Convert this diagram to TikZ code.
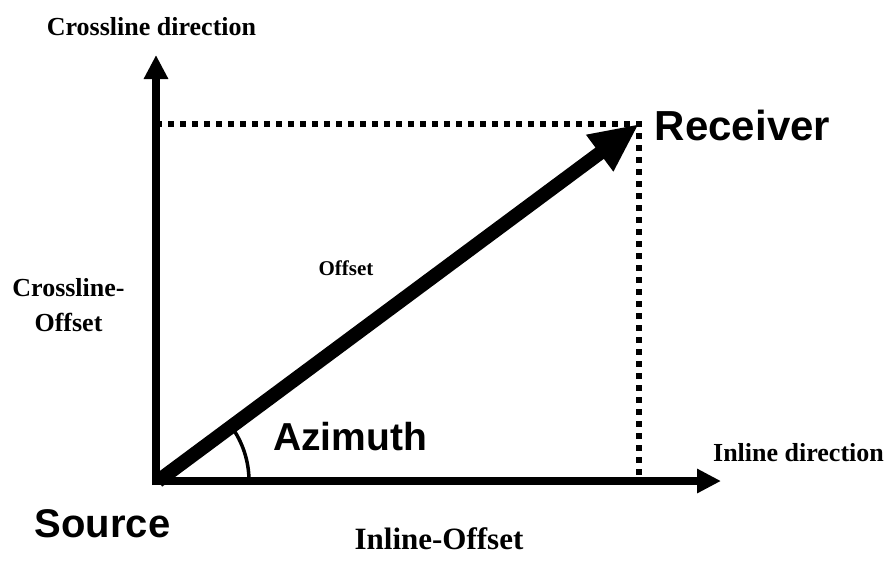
\documentclass[tikz,border=0pt]{standalone}
\usepackage{fontspec}
\setmainfont{Liberation Serif}
\newfontfamily\arialf{Liberation Sans}
\usetikzlibrary{arrows.meta}
\begin{document}
\begin{tikzpicture}[x=1pt,y=-1pt,
  serl/.style={font=\bfseries\fontsize{26}{28}\selectfont, inner sep=0pt, anchor=base},
  sansl/.style={font=\arialf\bfseries\fontsize{40}{44}\selectfont, inner sep=0pt, anchor=base},
  axisline/.style={line width=8pt, -{Triangle[length=24pt,width=23pt]}},
  dotline/.style={line width=6pt, dash pattern=on 6pt off 6pt},
]
\useasboundingbox (0,0) rectangle (890,574);
\coordinate (O) at (156,481);
\coordinate (Obot) at (156,485);
\coordinate (Oleft) at (152,481);
\coordinate (Ytip) at (156,55);
\coordinate (Xtip) at (721,481);
\coordinate (R) at (639,124);
\coordinate (Rx) at (639,481);
\coordinate (Ry) at (156,124);
\coordinate (Os) at (158,481);
% dotted projections
\draw[dotline] (Ry) -- (R) -- (Rx);
% axes
\draw[axisline] (Obot) -- (Ytip);
\draw[axisline] (Oleft) -- (Xtip);
% offset vector
\draw[line width=14pt, -{Triangle[length=49pt,width=42pt]}] (Os) -- (R);
% azimuth arc
\draw[line width=3.5pt] (O) ++(0:93) arc[start angle=0, end angle=-36.5, radius=93];
% labels
\node[serl] (cd) at (151.5,35) {Crossline direction};
\node[sansl, font=\arialf\bfseries\fontsize{42}{44}\selectfont] (rec) at (742.5,140) {Receiver};
\node[serl] (co1) at (68.5,296) {Crossline-};
\node[serl] (co2) at (68.5,331) {Offset};
\node[serl, font=\bfseries\fontsize{21}{23}\selectfont] (off) at (346,275) {Offset};
\node[sansl, font=\arialf\bfseries\fontsize{39}{44}\selectfont] (az) at (350,450) {Azimuth};
\node[serl] (id) at (798.5,461) {Inline direction};
\node[sansl] (src) at (102.5,537) {Source};
\node[serl, font=\bfseries\fontsize{31}{33}\selectfont] (io) at (439,549) {Inline-Offset};
\end{tikzpicture}
\end{document}
